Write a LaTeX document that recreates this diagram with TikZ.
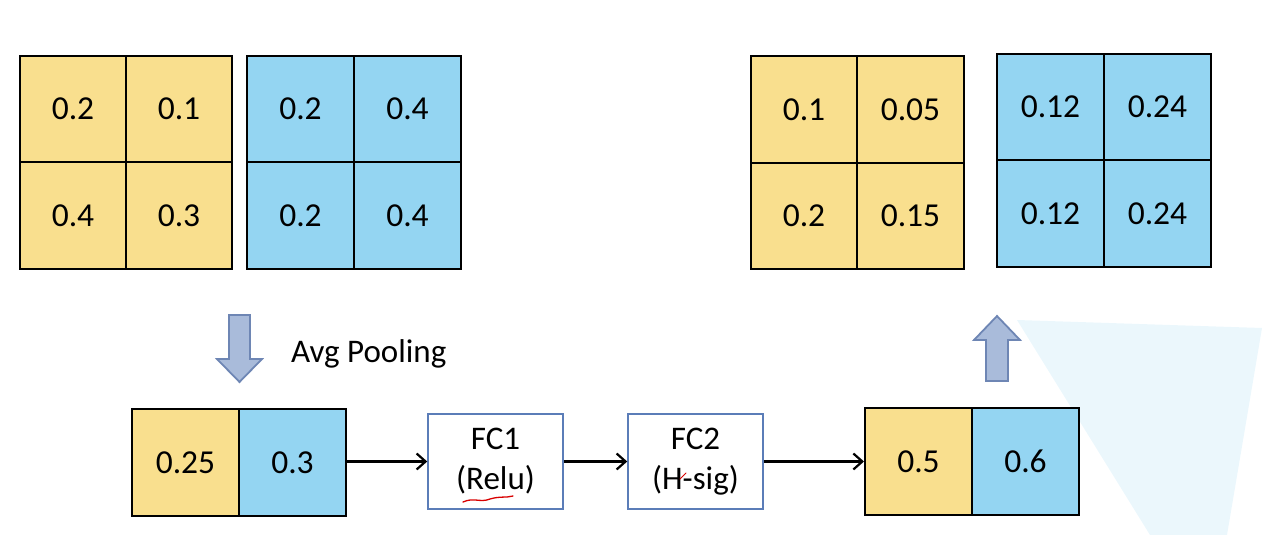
\documentclass[tikz,border=0pt]{standalone}
\usepackage{fontspec}
\setmainfont{Carlito}
\usetikzlibrary{arrows.meta}
\definecolor{cyel}{HTML}{F9DF8E}
\definecolor{cblu}{HTML}{94D5F2}
\definecolor{barfill}{HTML}{A9BBDA}
\definecolor{barline}{HTML}{6E86B4}
\definecolor{fcline}{HTML}{5B7DB8}
\definecolor{ghost}{HTML}{EBF7FC}
\tikzset{
  cell/.style={draw=black, line width=2pt, inner sep=0pt, font=\fontsize{33.5}{38}\selectfont},
  ycell/.style={cell, fill=cyel, minimum width=106pt, minimum height=106.5pt},
  bcell/.style={cell, fill=cblu, minimum width=107pt, minimum height=106.5pt},
  fcbox/.style={draw=fcline, line width=1.5pt, fill=white, minimum width=135pt, minimum height=95pt, align=center, inner sep=0pt, font=\fontsize{33}{40}\selectfont},
  link/.style={draw=black, line width=2.2pt, -{Straight Barb[length=9pt,width=16pt,line width=2.2pt]}},
  blockarrow/.style={draw=barline, fill=barfill, line width=1.8pt, line join=miter},
}
\begin{document}
\begin{tikzpicture}[x=1pt,y=-1pt]
\useasboundingbox (0,0) rectangle (1280,535);
% faint background shape
\fill[ghost] (1017,320) -- (1262,328) -- (1227,535) -- (1150,535) -- cycle;

% top-left yellow grid
\node[ycell] (ya) at (73,109) {0.2};
\node[ycell] (yb) at (179,109) {0.1};
\node[ycell] (yc) at (73,215.5) {0.4};
\node[ycell] (yd) at (179,215.5) {0.3};
% top-left blue grid
\node[bcell] (ba) at (300.5,109) {0.2};
\node[bcell] (bb) at (407.5,109) {0.4};
\node[bcell] (bc) at (300.5,215.5) {0.2};
\node[bcell] (bd) at (407.5,215.5) {0.4};

% top-right yellow grid
\node[ycell, minimum width=106.5pt] (ra) at (804,109.5) {0.1};
\node[ycell, minimum width=106.5pt] (rb) at (910.5,109.5) {0.05};
\node[ycell, minimum width=106.5pt] (rc) at (804,216) {0.2};
\node[ycell, minimum width=106.5pt] (rd) at (910.5,216) {0.15};
% top-right blue grid
\node[bcell] (sa) at (1050.5,107) {0.12};
\node[bcell] (sb) at (1157.5,107) {0.24};
\node[bcell] (sc) at (1050.5,213.5) {0.12};
\node[bcell] (sd) at (1157.5,213.5) {0.24};

% pooled vector
\node[ycell, minimum width=107pt, minimum height=107pt] (py) at (185.5,462.5) {0.25};
\node[bcell, minimum height=107pt] (pb) at (292.5,462.5) {0.3};

% FC boxes
\node[fcbox] (fc1) at (495.5,461.5) {FC1\\(Relu)};
\node[fcbox] (fc2) at (695.5,461.5) {FC2\\(H-sig)};

% scale vector
\node[ycell, minimum width=107pt, minimum height=107pt] (oy) at (918.5,461.5) {0.5};
\node[bcell, minimum height=107pt] (ob) at (1025.5,461.5) {0.6};

% connectors
\draw[link] (pb.east |- fc1.west) -- (fc1.west);
\draw[link] (fc1.east) -- (fc2.west);
\draw[link] (fc2.east) -- (fc2.east -| oy.west);

% block arrow down
\draw[blockarrow] (229,315) -- (250,315) -- (250,359) -- (262,359) -- (239.5,382) -- (217,359) -- (229,359) -- cycle;
\node[anchor=west, font=\fontsize{33}{38}\selectfont, inner sep=0pt] (avg) at (291,354) {Avg Pooling};

% block arrow up
\draw[blockarrow] (986,381) -- (1008,381) -- (1008,340) -- (1020,340) -- (997,316) -- (974,340) -- (986,340) -- cycle;

% red scribbles
\draw[red!85!black, line width=1.3pt, line cap=round] (463,502) .. controls (474,497) and (480,503) .. (490,499) .. controls (500,496) and (506,498) .. (513,496);
\draw[red!85!black, line width=1pt, line cap=round] (680,479) -- (686,473);
\end{tikzpicture}
\end{document}
